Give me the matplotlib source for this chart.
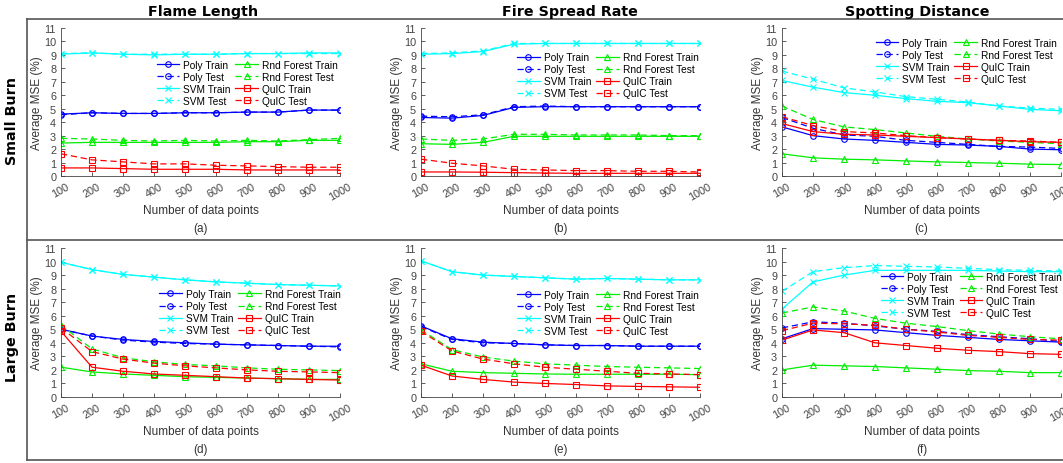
import numpy as np
import matplotlib
matplotlib.use('Agg')
import matplotlib.pyplot as plt
from matplotlib.lines import Line2D

plt.rcParams['font.family'] = ['Liberation Sans', 'DejaVu Sans']

n_points = [100, 200, 300, 400, 500, 600, 700, 800, 900, 1000]
col_titles = ['Flame Length', 'Fire Spread Rate', 'Spotting Distance']
row_titles = ['Small Burn', 'Large Burn']
captions = ['(a)', '(b)', '(c)', '(d)', '(e)', '(f)']

# (a) small burn, flame length
a_poly_train = [4.6, 4.7, 4.65, 4.65, 4.7, 4.7, 4.75, 4.75, 4.9, 4.9]
a_poly_test = [4.55, 4.7, 4.65, 4.65, 4.7, 4.7, 4.75, 4.75, 4.9, 4.9]
a_svm_train = [9.05, 9.15, 9.05, 9.0, 9.05, 9.05, 9.1, 9.1, 9.15, 9.15]
a_svm_test = [9.1, 9.15, 9.05, 9.05, 9.05, 9.05, 9.1, 9.1, 9.1, 9.1]
a_rf_train = [2.45, 2.5, 2.5, 2.5, 2.5, 2.5, 2.55, 2.55, 2.65, 2.65]
a_rf_test = [2.8, 2.75, 2.65, 2.6, 2.65, 2.6, 2.65, 2.6, 2.7, 2.8]
a_quic_train = [0.6, 0.6, 0.55, 0.5, 0.5, 0.5, 0.45, 0.45, 0.45, 0.45]
a_quic_test = [1.65, 1.2, 1.05, 0.9, 0.9, 0.8, 0.75, 0.7, 0.65, 0.65]

# (b) small burn, fire spread rate
b_poly_train = [4.35, 4.3, 4.5, 5.1, 5.15, 5.15, 5.15, 5.15, 5.15, 5.15]
b_poly_test = [4.45, 4.4, 4.55, 5.15, 5.2, 5.15, 5.15, 5.15, 5.15, 5.15]
b_svm_train = [9.05, 9.1, 9.25, 9.8, 9.85, 9.85, 9.85, 9.85, 9.85, 9.85]
b_svm_test = [9.1, 9.15, 9.3, 9.85, 9.85, 9.85, 9.85, 9.85, 9.85, 9.85]
b_rf_train = [2.4, 2.35, 2.5, 2.95, 2.95, 2.95, 2.95, 2.95, 2.95, 2.95]
b_rf_test = [2.75, 2.65, 2.75, 3.1, 3.1, 3.05, 3.05, 3.05, 3.0, 3.0]
b_quic_train = [0.3, 0.3, 0.28, 0.25, 0.22, 0.2, 0.2, 0.2, 0.2, 0.2]
b_quic_test = [1.25, 0.95, 0.75, 0.5, 0.45, 0.4, 0.4, 0.35, 0.35, 0.3]

# (c) small burn, spotting distance
c_poly_train = [3.65, 3.0, 2.75, 2.65, 2.5, 2.35, 2.3, 2.2, 2.0, 1.95]
c_poly_test = [4.35, 3.55, 3.05, 2.95, 2.65, 2.5, 2.35, 2.2, 2.15, 2.05]
c_svm_train = [7.1, 6.6, 6.2, 6.0, 5.75, 5.55, 5.45, 5.2, 4.95, 4.85]
c_svm_test = [7.8, 7.2, 6.55, 6.25, 5.9, 5.7, 5.5, 5.2, 5.05, 4.95]
c_rf_train = [1.65, 1.35, 1.25, 1.2, 1.12, 1.05, 1.0, 0.95, 0.88, 0.85]
c_rf_test = [5.2, 4.2, 3.65, 3.45, 3.2, 2.95, 2.75, 2.6, 2.5, 2.4]
c_quic_train = [3.9, 3.3, 3.1, 3.05, 2.95, 2.85, 2.75, 2.65, 2.55, 2.5]
c_quic_test = [4.4, 3.75, 3.3, 3.2, 3.0, 2.85, 2.75, 2.65, 2.6, 2.5]

# (d) large burn, flame length
d_poly_train = [5.0, 4.5, 4.25, 4.1, 4.0, 3.9, 3.85, 3.8, 3.75, 3.75]
d_poly_test = [5.0, 4.5, 4.2, 4.05, 3.95, 3.9, 3.85, 3.8, 3.75, 3.7]
d_svm_train = [9.95, 9.4, 9.05, 8.85, 8.65, 8.5, 8.4, 8.3, 8.25, 8.2]
d_svm_test = [9.95, 9.4, 9.05, 8.85, 8.65, 8.5, 8.4, 8.3, 8.25, 8.2]
d_rf_train = [2.2, 1.85, 1.7, 1.6, 1.5, 1.45, 1.4, 1.35, 1.3, 1.3]
d_rf_test = [5.3, 3.55, 2.9, 2.6, 2.4, 2.3, 2.15, 2.05, 2.0, 1.95]
d_quic_train = [4.85, 2.2, 1.9, 1.7, 1.6, 1.5, 1.4, 1.35, 1.3, 1.25]
d_quic_test = [5.1, 3.35, 2.8, 2.5, 2.3, 2.15, 2.0, 1.9, 1.85, 1.8]

# (e) large burn, fire spread rate
e_poly_train = [5.25, 4.3, 4.05, 3.95, 3.85, 3.8, 3.8, 3.75, 3.75, 3.75]
e_poly_test = [5.2, 4.25, 4.0, 3.95, 3.85, 3.8, 3.8, 3.75, 3.75, 3.75]
e_svm_train = [10.05, 9.25, 9.0, 8.9, 8.8, 8.7, 8.75, 8.7, 8.65, 8.65]
e_svm_test = [10.05, 9.25, 9.0, 8.9, 8.8, 8.7, 8.75, 8.7, 8.65, 8.65]
e_rf_train = [2.45, 1.9, 1.8, 1.75, 1.7, 1.68, 1.68, 1.68, 1.68, 1.65]
e_rf_test = [4.95, 3.5, 2.95, 2.65, 2.45, 2.35, 2.25, 2.2, 2.15, 2.1]
e_quic_train = [2.35, 1.55, 1.3, 1.1, 1.0, 0.92, 0.82, 0.78, 0.75, 0.72]
e_quic_test = [4.85, 3.4, 2.8, 2.45, 2.2, 2.05, 1.9, 1.75, 1.7, 1.65]

# (f) large burn, spotting distance
f_poly_train = [4.3, 5.05, 5.0, 4.95, 4.75, 4.55, 4.4, 4.25, 4.15, 4.05]
f_poly_test = [5.1, 5.55, 5.45, 5.25, 5.0, 4.85, 4.6, 4.45, 4.3, 4.1]
f_svm_train = [6.5, 8.5, 9.0, 9.35, 9.35, 9.35, 9.35, 9.3, 9.25, 9.25]
f_svm_test = [7.8, 9.25, 9.55, 9.7, 9.65, 9.6, 9.5, 9.4, 9.35, 9.3]
f_rf_train = [2.0, 2.35, 2.3, 2.25, 2.15, 2.05, 1.95, 1.9, 1.8, 1.8]
f_rf_test = [6.2, 6.65, 6.35, 5.8, 5.45, 5.2, 4.9, 4.65, 4.45, 4.3]
f_quic_train = [4.2, 4.95, 4.75, 4.0, 3.8, 3.6, 3.45, 3.35, 3.2, 3.15]
f_quic_test = [4.9, 5.45, 5.4, 5.3, 5.0, 4.8, 4.55, 4.4, 4.25, 4.2]

panels = [
    [a_poly_train, a_poly_test, a_svm_train, a_svm_test, a_rf_train, a_rf_test, a_quic_train, a_quic_test],
    [b_poly_train, b_poly_test, b_svm_train, b_svm_test, b_rf_train, b_rf_test, b_quic_train, b_quic_test],
    [c_poly_train, c_poly_test, c_svm_train, c_svm_test, c_rf_train, c_rf_test, c_quic_train, c_quic_test],
    [d_poly_train, d_poly_test, d_svm_train, d_svm_test, d_rf_train, d_rf_test, d_quic_train, d_quic_test],
    [e_poly_train, e_poly_test, e_svm_train, e_svm_test, e_rf_train, e_rf_test, e_quic_train, e_quic_test],
    [f_poly_train, f_poly_test, f_svm_train, f_svm_test, f_rf_train, f_rf_test, f_quic_train, f_quic_test],
]
labels = ['Poly Train', 'Poly Test', 'SVM Train', 'SVM Test',
          'Rnd Forest Train', 'Rnd Forest Test', 'QuIC Train', 'QuIC Test']
colors = ['#0000ff', '#0000ff', '#00ffff', '#00ffff', '#00ee00', '#00ee00', '#ff0000', '#ff0000']
markers = ['o', 'o', 'x', 'x', '^', '^', 's', 's']
dashed = (0, (5, 3))

W, H = 1063, 464
fig = plt.figure(figsize=(W / 100, H / 100), dpi=100)

# axes placement in pixels (left, top, right, bottom)
col_x = [(61, 340), (421, 700), (782, 1061)]
row_y = [(29, 177), (249, 398)]
legend_pos = [(0.667, 0.63), (0.67, 0.68), (0.66, 0.78),
              (0.677, 0.57), (0.67, 0.565), (0.68, 0.685)]

tick_gray = '#444444'
for r in range(2):
    for c in range(3):
        k = r * 3 + c
        x0, x1 = col_x[c]
        y0, y1 = row_y[r]
        ax = fig.add_axes([x0 / W, 1 - y1 / H, (x1 - x0) / W, (y1 - y0) / H])
        for i, series in enumerate(panels[k]):
            ax.plot(n_points, series, color=colors[i], marker=markers[i],
                    markersize=4, markerfacecolor='none', markeredgewidth=0.8,
                    linewidth=0.9, linestyle='-' if i % 2 == 0 else dashed,
                    label=labels[i])
        ax.set_xlim(100, 1000)
        ax.set_ylim(0, 11)
        ax.set_xticks(n_points)
        ax.set_yticks(range(12))
        ax.tick_params(direction='in', length=3, width=0.6, colors=tick_gray, labelsize=7.8)
        plt.setp(ax.get_xticklabels(), rotation=30, ha='center')
        for s in ['top', 'right']:
            ax.spines[s].set_visible(False)
        for s in ['left', 'bottom']:
            ax.spines[s].set_color(tick_gray)
            ax.spines[s].set_linewidth(0.6)
        ax.set_xlabel('Number of data points', fontsize=8.5, color='#333333', labelpad=2)
        ax.set_ylabel('Average MSE (%)', fontsize=8.5, color='#333333', labelpad=1)
        ax.patch.set_visible(False)
        ax.legend(loc='center', bbox_to_anchor=legend_pos[k], ncol=2, frameon=False,
                  fontsize=7.3, handlelength=2.2, handletextpad=0.4, columnspacing=0.5,
                  labelspacing=0.2, borderpad=0)
        cx = (x0 + x1) / 2
        fig.text(cx / W, 1 - (229 if r == 0 else 450) / H, captions[k],
                 ha='center', va='center', fontsize=8.5, color='#333333')

for title, cx in zip(col_titles, [203, 570, 917]):
    fig.text(cx / W, 1 - 12 / H, title, ha='center', va='center',
             fontsize=10.3, fontweight='bold', family='DejaVu Sans')
for r, yc in enumerate([121, 337]):
    fig.text(12 / W, 1 - yc / H, row_titles[r], ha='center', va='center', rotation=90,
             fontsize=10.3, fontweight='bold', family='DejaVu Sans')

# panel frame
frame_c = '#555555'
fig.add_artist(Line2D([27 / W, 27 / W], [1 - 20 / H, 1 - 461 / H], color=frame_c, lw=1.2))
for yy in [20, 241, 461]:
    fig.add_artist(Line2D([27 / W, 1], [1 - yy / H, 1 - yy / H], color=frame_c, lw=1.2))

fig.savefig('out.png', dpi=100)
